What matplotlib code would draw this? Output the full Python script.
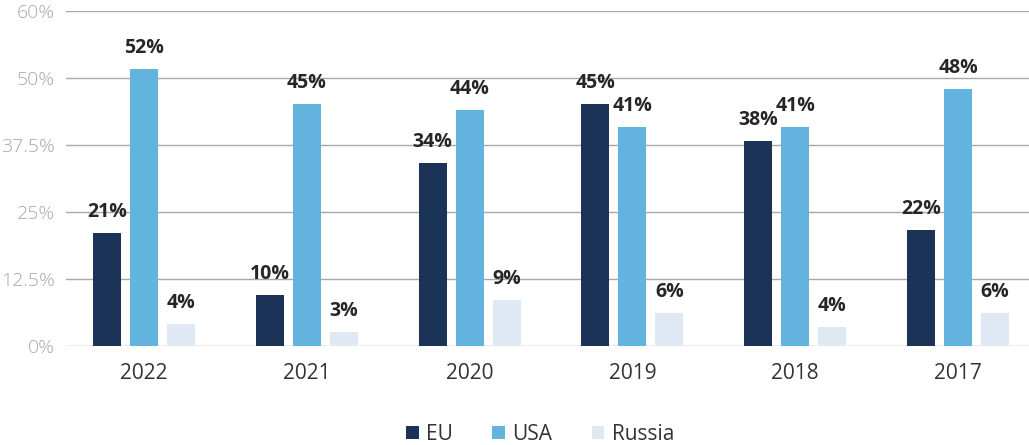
import matplotlib
matplotlib.use("Agg")
import matplotlib.pyplot as plt
import numpy as np
from matplotlib.patches import Patch

years = ["2022", "2021", "2020", "2019", "2018", "2017"]
eu = [21, 10, 34, 45, 38, 22]
usa = [52, 45, 44, 41, 41, 48]
russia = [4, 3, 9, 6, 4, 6]
eu_h = [21.1, 9.5, 34.1, 45.1, 38.2, 21.6]
usa_h = [51.7, 45.1, 44.0, 40.9, 40.9, 48.0]
russia_h = [4.1, 2.6, 8.6, 6.2, 3.5, 6.2]
series_names = ["EU", "USA", "Russia"]
colors = ["#1c3358", "#62b4df", "#dfe9f3"]
ytick_vals = [0, 12.5, 25, 37.5, 50, 62.5]
ytick_labels = ["0%", "12.5%", "25%", "37.5%", "50%", "60%"]

plt.rcParams['font.family'] = ['Open Sans', 'DejaVu Sans']

fig = plt.figure(figsize=(10.29, 4.45), dpi=100)
ax = fig.add_axes([66/1029, 1-346/445, 1-66/1029, (346-11)/445])

x = np.arange(len(years))
w = 0.172
off = 0.227
for i, (heights, labels) in enumerate([(eu_h, eu), (usa_h, usa), (russia_h, russia)]):
    pos = x + (i-1)*off
    ax.bar(pos, heights, width=w, color=colors[i], zorder=3)
    for p, h, lab in zip(pos, heights, labels):
        ax.annotate(f"{lab}%", (p, h), xytext=(0, 8), textcoords="offset points",
                    ha="center", va="bottom", fontsize=14, fontweight="bold",
                    color="#262626", zorder=4)

ax.set_xlim(-0.479, 5.436)
ax.set_ylim(0, 62.5)
ax.set_yticks(ytick_vals)
ax.set_yticklabels(ytick_labels, fontsize=14, color="#a8a8a8", fontweight="light")
ax.set_xticks(x)
ax.set_xticklabels(years, fontsize=15, color="#333333")
ax.tick_params(axis="both", length=0)
ax.tick_params(axis="y", pad=8)
ax.tick_params(axis="x", pad=12)
ax.grid(axis="y", color="#a8a8a8", linewidth=1, zorder=0)
for s in ax.spines.values():
    s.set_visible(False)

handles = [Patch(facecolor=c, edgecolor="none") for c in colors]
fig.legend(handles, series_names, loc="center", bbox_to_anchor=(540/1029, 1-434/445),
           ncol=3, frameon=False, fontsize=15, handlelength=0.6, handleheight=0.6,
           handletextpad=0.35, columnspacing=1.9, labelcolor="#333333")

fig.savefig("out.png", dpi=100)
